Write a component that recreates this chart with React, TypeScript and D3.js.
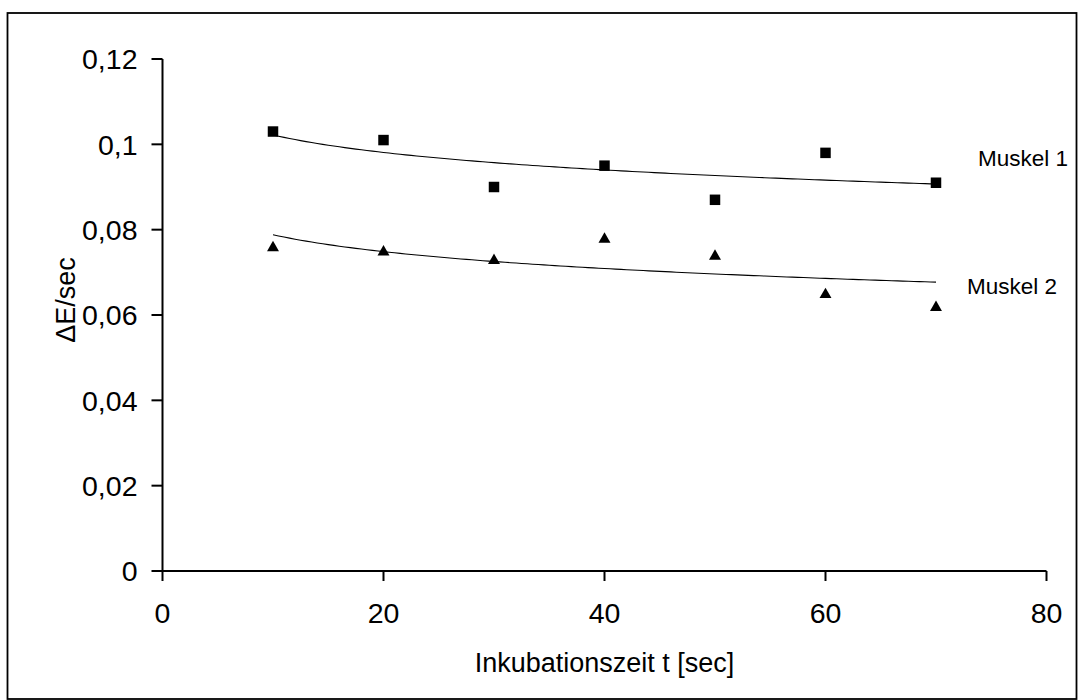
import React from "react";
import * as d3 from "d3";

const xTicks = [0, 20, 40, 60, 80];
const yTicks = [0, 0.02, 0.04, 0.06, 0.08, 0.1, 0.12];
const yTickLabels = ["0", "0,02", "0,04", "0,06", "0,08", "0,1", "0,12"];
const times = [10, 20, 30, 40, 50, 60, 70];
const muskel1 = [0.103, 0.101, 0.09, 0.095, 0.087, 0.098, 0.091];
const muskel2 = [0.076, 0.075, 0.073, 0.078, 0.074, 0.065, 0.062];
const seriesNames = ["Muskel 1", "Muskel 2"];

const W = 1078;
const H = 700;
const FONT = "'Liberation Sans', Arial, sans-serif";

function logFit(xs: number[], ys: number[]) {
  const lx = xs.map((x) => Math.log(x));
  const mx = d3.mean(lx) as number;
  const my = d3.mean(ys) as number;
  let sxy = 0;
  let sxx = 0;
  lx.forEach((l, i) => {
    sxy += (l - mx) * (ys[i] - my);
    sxx += (l - mx) * (l - mx);
  });
  const b = sxy / sxx;
  const a = my - b * mx;
  return (x: number) => a + b * Math.log(x);
}

export default function App() {
  const x = d3.scaleLinear().domain([0, 80]).range([162.5, 1046.5]);
  const y = d3.scaleLinear().domain([0, 0.12]).range([571, 59]);

  const fit1 = logFit(times, muskel1);
  const fit2 = logFit(times, muskel2);
  const tMin = d3.min(times) as number;
  const tMax = d3.max(times) as number;
  const curveX = d3.range(tMin, tMax + 0.001, 0.5);
  const path1 = d3.line<number>().x((t) => x(t)).y((t) => y(fit1(t)))(curveX) as string;
  const path2 = d3.line<number>().x((t) => x(t)).y((t) => y(fit2(t)))(curveX) as string;

  const sq = d3.symbol().type(d3.symbolSquare).size(110)() as string;
  const tri = d3.symbol().type(d3.symbolTriangle).size(62)() as string;

  return (
    <svg
      width={W}
      height={H}
      style={{ position: "absolute", left: 0, top: 0, background: "#fff" }}
    >
      <rect x={7.5} y={13} width={1069} height={686} fill="#fff" stroke="#000" strokeWidth={1.8} />

      <line x1={x(0)} x2={x(0)} y1={y(0.12)} y2={y(0)} stroke="#000" strokeWidth={2} />
      <line x1={x(0)} x2={x(80)} y1={y(0)} y2={y(0)} stroke="#000" strokeWidth={2} />

      {yTicks.map((v, i) => (
        <g key={"y" + i}>
          <line x1={x(0) - 11} x2={x(0)} y1={y(v)} y2={y(v)} stroke="#000" strokeWidth={2} />
          <text
            x={x(0) - 25}
            y={y(v)}
            dy="0.36em"
            textAnchor="end"
            fontFamily={FONT}
            fontSize={28.5}
          >
            {yTickLabels[i]}
          </text>
        </g>
      ))}
      {xTicks.map((v, i) => (
        <g key={"x" + i}>
          <line x1={x(v)} x2={x(v)} y1={y(0)} y2={y(0) + 10} stroke="#000" strokeWidth={2} />
          <text x={x(v)} y={623} textAnchor="middle" fontFamily={FONT} fontSize={28.5}>
            {v}
          </text>
        </g>
      ))}

      <text x={x(40)} y={672} textAnchor="middle" fontFamily={FONT} fontSize={27}>
        Inkubationszeit t [sec]
      </text>
      <text
        transform={`translate(75, ${y(0.06) - 15}) rotate(-90)`}
        textAnchor="middle"
        fontFamily={FONT}
        fontSize={27}
      >
        ΔE/sec
      </text>

      <path d={path1} fill="none" stroke="#000" strokeWidth={1.1} />
      <path d={path2} fill="none" stroke="#000" strokeWidth={1.1} />

      {times.map((t, i) => (
        <path key={"s" + i} d={sq} transform={`translate(${x(t)},${y(muskel1[i])})`} fill="#000" />
      ))}
      {times.map((t, i) => (
        <path key={"t" + i} d={tri} transform={`translate(${x(t)},${y(muskel2[i]) + 1})`} fill="#000" />
      ))}

      <text x={978} y={166} fontFamily={FONT} fontSize={22.5}>
        {seriesNames[0]}
      </text>
      <text x={967} y={294} fontFamily={FONT} fontSize={22.5}>
        {seriesNames[1]}
      </text>
    </svg>
  );
}
